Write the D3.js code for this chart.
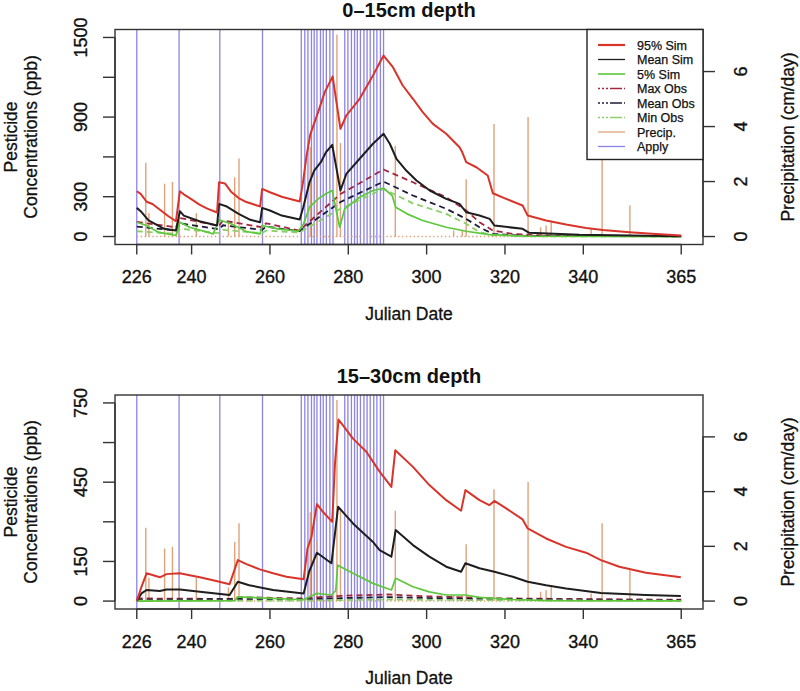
<!DOCTYPE html>
<html><head><meta charset="utf-8">
<script src="https://cdn.jsdelivr.net/npm/d3@7"></script>
<style>
body{margin:0;background:#fff}
svg{display:block}
text{font-family:"Liberation Sans",Arial,Helvetica,sans-serif;fill:#111}
</style>
</head><body><svg id="c" width="800" height="691"></svg>
<script>
// ---------------- data ----------------
const xTicks = [226, 240, 260, 280, 300, 320, 340, 365];
const precipTicks = [0, 2, 4, 6];
const topYTicks = [0, 300, 600, 900, 1200, 1500];
const topYLabels = [0, 300, 900, 1500];
const botYTicks = [0, 150, 300, 450, 600, 750];
const botYLabels = [0, 150, 450, 750];

const applyDays = [226, 236.8, 247.2, 258.1,
  268.0, 268.9, 269.7, 270.6, 271.3, 272.0, 272.9, 273.6, 274.4, 275.3, 276.1,
  279.1, 279.9, 280.8, 281.6, 282.3, 283.1, 284.0, 284.8, 285.6, 286.5, 287.3, 288.2, 289.0];

const precipDays = [228.3, 229.1, 233.1, 235.1, 236.8, 241.2, 249.4, 251.0, 252.1, 270.3, 272.0, 277.1, 278.0,
  292.0, 306.9, 309.1, 310.1, 317.2, 325.9, 329.1, 330.5, 331.8, 342.0, 344.8, 351.9];
const precipVals = [2.68, 0.85, 1.92, 1.98, 0.55, 0.85, 0.5, 2.16, 2.84, 3.25, 2.2, 7.35, 3.4,
  3.3, 0.22, 0.2, 2.08, 4.09, 4.35, 0.34, 0.4, 0.55, 0.28, 2.84, 1.13];

// 0-15 cm depth
const top95 = [[226,341],[227,322],[228.5,262],[230,245],[232,200],[234,155],[236,115],
  [237,341],[238,318],[240,280],[242,240],[244,210],[246.5,181],
  [247,409],[248.5,400],[250,340],[252,290],[254,260],[257.5,226],
  [258,359],[260,334],[263,300],[267.6,264],
  [268.4,400],[269.3,600],[270.3,770],[272.3,937],[274,1088],[276,1206],
  [278,812],[279.5,912],[282.9,1038],[286.3,1214],[289,1364],
  [291.4,1276],[293.9,1138],[296.5,1038],[299,937],[301.6,849],[305,774],[308.4,673],[309.1,635],[310.1,560],
  [312.7,522],[315.6,460],[316.9,326],[320.3,284],[324.5,234],[325.8,158],[330.5,121],[335.6,90],
  [340.7,65],[345,50],[351.8,33],[358.6,20],[365,8]];
const topMean = [[226,216],[227,191],[229,121],[231,90],[233,58],[236,45],
  [237,191],[238,158],[242,115],[246.5,83],
  [247,246],[249,226],[252,171],[255,126],[257.5,108],
  [258,216],[260,196],[263,158],[267.6,128],
  [268.5,221],[270.1,409],[271.3,497],[273,560],[274.3,635],[275.9,691],
  [278,347],[279.5,472],[282.9,586],[286.3,699],[289,774],
  [290.6,699],[292.3,586],[294.8,497],[297.4,422],[300.8,347],[305,284],[308.4,246],[310.1,183],
  [313.5,158],[316.1,133],[317.3,83],[324.5,58],[326.2,28],[339,13],[365,2]];
const top5 = [[226,108],[228.5,83],[231.5,33],[236,8],
  [237,108],[239.5,70],[245.5,20],
  [247,126],[250,96],[254,38],[257.5,20],
  [258,83],[262,58],[267.2,40],
  [268.5,90],[270.1,221],[272.3,284],[274.3,322],[275.9,347],
  [277.8,70],[279.1,209],[282.9,296],[286.3,347],[289,364],
  [291.2,309],[292.1,221],[295,171],[299,121],[305,70],[310.1,40],[316,15],[326,2],[365,0]];
const topMaxObs = [[226,110],[236,70],[237,140],[247,80],[248,120],[258,70],[259,100],[267.5,45],
  [278,320],[289,505],[296.5,409],[305,296],[310.1,196],[313.5,108],[316.9,45],[322,20],[330,8],[365,3]];
const topMeanObs = [[226,75],[236,45],[237,100],[247,55],[248,85],[258,50],[259,75],[267.5,40],
  [278,260],[289,414],[296.5,309],[305,209],[310.1,133],[313.5,70],[316.9,20],[325,5],[365,2]];
const topMinObs = [[226,40],[236,20],[237,60],[247,25],[248,50],[258,25],[259,45],[267.5,30],
  [278,210],[289,359],[296.5,250],[305,171],[310.1,96],[313.5,33],[317,10],[325,2],[365,0]];

// 15-30 cm depth
const bot95 = [[226,0],[227.2,54],[228.5,105],[230.2,98],[231.9,90],[233.6,102],[237,105],[239.5,98],
  [242.1,90],[246.3,76],[249.7,64],[251.8,155],[254,140],[257.4,120],[260.8,105],[264.2,92],[268.6,83],
  [269.6,200],[270.6,243],[272,367],[273.5,338],[275.9,300],[276.6,520],[277.5,687],[278.6,666],
  [281.2,615],[284.6,565],[288,490],[291,432],[292,571],[296.5,508],[300.7,439],[305,382],[308.8,342],
  [309.9,420],[313.5,382],[316,363],[317.3,379],[320.3,351],[324.5,309],[325.8,275],[330.5,237],
  [335.6,205],[340.7,183],[344.5,155],[349.2,130],[356,107],[364.9,90]];
const botMean = [[226,0],[227.2,29],[228.5,42],[231.9,38],[233.6,44],[237,44],[242.1,35],[249.7,23],
  [251.8,73],[254.7,60],[260.8,42],[268.6,29],[270,111],[272,183],[275.7,143],[277.4,357],[281.2,294],
  [286.3,224],[288,193],[291,168],[292.1,269],[296.5,212],[300.7,168],[305,130],[308.8,111],[309.9,143],
  [313.5,124],[317.3,111],[322,92],[325.8,73],[330.5,60],[335.6,48],[344.5,31],[356,23],[364.9,19]];
const bot5 = [[226,0],[251,2],[251.8,16],[260.8,10],[268.6,5],[271.9,29],[275.7,23],[276.8,40],[277.3,136],
  [281.2,105],[286.3,67],[291,42],[292.1,86],[296.5,54],[300.7,35],[305,23],[309.9,23],[313.5,14],
  [322,6],[330.5,2],[364.9,1]];
const botMaxObs = [[226,10],[250,8],[252,15],[268,10],[278,20],[290,25],[300,18],[320,10],[365,5]];
const botMeanObs = [[226,5],[252,8],[268,6],[280,12],[290,15],[310,8],[365,3]];
const botMinObs = [[226,2],[268,2],[290,6],[320,3],[365,1]];

const legendLabels = ["95% Sim", "Mean Sim", "5% Sim", "Max Obs", "Mean Obs", "Min Obs", "Precip.", "Apply"];

// ---------------- styles ----------------
const C = {
  s95: "#d8342a", sMean: "#1e1e1e", s5: "#5cc83b",
  oMax: "#a3283f", oMean: "#1c1c3a", oMin: "#8ccf6a",
  precip: "#dfa27a", apply: "#8c84e4", axis: "#333"
};
const legendStyles = [
  {c: C.s95, d: null, w: 2.2}, {c: C.sMean, d: null, w: 1.3}, {c: C.s5, d: null, w: 1.6},
  {c: C.oMax, d: "2,2,2,2,2,2,12", w: 1.6}, {c: C.oMean, d: "2,2,2,2,2,2,12", w: 1.6},
  {c: C.oMin, d: "2,2,2,2,2,2,12", w: 1.6}, {c: C.precip, d: null, w: 1.3}, {c: C.apply, d: null, w: 1.3}
];

const svg = d3.select("#c");
const X0 = 115, X1 = 703;
const x = d3.scaleLinear().domain([226 - 0.04 * 139, 365 + 0.04 * 139]).range([X0, X1]);
const pMax = 7.24;

function drawPanel(o) {
  const g = svg.append("g");
  const yTop = o.top, yBot = o.bottom;
  const ymax = o.ymax;
  const y = d3.scaleLinear().domain([-0.04 * ymax, 1.04 * ymax]).range([yBot, yTop]);
  const yp = d3.scaleLinear().domain([-0.04 * pMax, 1.04 * pMax]).range([yBot, yTop]);

  const clipId = "clip" + o.id;
  svg.append("clipPath").attr("id", clipId).append("rect")
    .attr("x", X0).attr("y", yTop).attr("width", X1 - X0).attr("height", yBot - yTop);
  const plot = g.append("g").attr("clip-path", `url(#${clipId})`);

  // apply lines
  plot.selectAll(".ap").data(applyDays).enter().append("line")
    .attr("x1", d => x(d)).attr("x2", d => x(d)).attr("y1", yTop).attr("y2", yBot)
    .attr("stroke", C.apply).attr("stroke-width", 1.3);

  // precip zero dots + bars
  plot.append("line").attr("x1", x(226)).attr("x2", x(365)).attr("y1", yp(0)).attr("y2", yp(0))
    .attr("stroke", C.precip).attr("stroke-width", 1.4).attr("stroke-dasharray", "1.4,2.5");
  plot.selectAll(".pr").data(precipDays).enter().append("line")
    .attr("x1", d => x(d)).attr("x2", d => x(d))
    .attr("y1", yp(0)).attr("y2", (d, i) => yp(precipVals[i]))
    .attr("stroke", C.precip).attr("stroke-width", 1.4);

  const line = d3.line().x(d => x(d[0])).y(d => y(d[1]));
  const series = [
    [o.maxObs, C.oMax, "6,4", 1.8],
    [o.meanObs, C.oMean, "6,4", 1.8],
    [o.minObs, C.oMin, "6,4", 1.8],
    [o.s5, C.s5, null, 1.7],
    [o.sMean, C.sMean, null, 2.0],
    [o.s95, C.s95, null, 2.0]
  ];
  series.forEach(([data, col, dash, w]) => {
    plot.append("path").datum(data).attr("d", line).attr("fill", "none")
      .attr("stroke", col).attr("stroke-width", w).attr("stroke-linejoin", "round")
      .attr("stroke-dasharray", dash);
  });

  // box
  g.append("rect").attr("x", X0).attr("y", yTop).attr("width", X1 - X0).attr("height", yBot - yTop)
    .attr("fill", "none").attr("stroke", C.axis).attr("stroke-width", 1.4);

  const tickLen = 10;
  // bottom axis
  g.append("line").attr("x1", x(226)).attr("x2", x(365)).attr("y1", yBot).attr("y2", yBot)
    .attr("stroke", C.axis).attr("stroke-width", 1.4);
  xTicks.forEach(t => {
    g.append("line").attr("x1", x(t)).attr("x2", x(t)).attr("y1", yBot).attr("y2", yBot + tickLen)
      .attr("stroke", C.axis).attr("stroke-width", 1.4);
    g.append("text").attr("x", x(t)).attr("y", yBot + 38.5).attr("text-anchor", "middle")
      .attr("font-size", 18).attr("stroke", "#111").attr("stroke-width", 0.35).text(t);
  });
  g.append("text").attr("x", (X0 + X1) / 2).attr("y", yBot + 75).attr("text-anchor", "middle")
    .attr("font-size", 17.5).attr("stroke", "#111").attr("stroke-width", 0.3).text("Julian Date");

  // left axis
  g.append("line").attr("x1", X0).attr("x2", X0).attr("y1", y(0)).attr("y2", y(o.yTicks[o.yTicks.length - 1]))
    .attr("stroke", C.axis).attr("stroke-width", 1.4);
  o.yTicks.forEach(t => {
    g.append("line").attr("x1", X0 - tickLen - 2).attr("x2", X0).attr("y1", y(t)).attr("y2", y(t))
      .attr("stroke", C.axis).attr("stroke-width", 1.4);
  });
  o.yLabels.forEach(t => {
    g.append("text").attr("transform", `translate(87,${y(t)}) rotate(-90)`).attr("text-anchor", "middle")
      .attr("font-size", 18).attr("stroke", "#111").attr("stroke-width", 0.35).text(t);
  });
  const yc = (yTop + yBot) / 2;
  g.append("text").attr("transform", `translate(17,${yc}) rotate(-90)`).attr("text-anchor", "middle")
    .attr("font-size", 17.5).attr("stroke", "#111").attr("stroke-width", 0.3).text("Pesticide");
  g.append("text").attr("transform", `translate(37,${yc}) rotate(-90)`).attr("text-anchor", "middle")
    .attr("font-size", 17.5).attr("stroke", "#111").attr("stroke-width", 0.3).text("Concentrations (ppb)");

  // right axis
  g.append("line").attr("x1", X1).attr("x2", X1).attr("y1", yp(0)).attr("y2", yp(6))
    .attr("stroke", C.axis).attr("stroke-width", 1.4);
  precipTicks.forEach(t => {
    g.append("line").attr("x1", X1).attr("x2", X1 + tickLen + 2).attr("y1", yp(t)).attr("y2", yp(t))
      .attr("stroke", C.axis).attr("stroke-width", 1.4);
    g.append("text").attr("transform", `translate(747,${yp(t)}) rotate(-90)`).attr("text-anchor", "middle")
      .attr("font-size", 18).attr("stroke", "#111").attr("stroke-width", 0.35).text(t);
  });
  g.append("text").attr("transform", `translate(794,${yc}) rotate(-90)`).attr("text-anchor", "middle")
    .attr("font-size", 17.5).attr("stroke", "#111").attr("stroke-width", 0.3).text("Precipitation (cm/day)");

  // title
  g.append("text").attr("x", (X0 + X1) / 2).attr("y", yTop - 12.5).attr("text-anchor", "middle")
    .attr("font-size", 20).attr("font-weight", "bold").text(o.title);

  if (o.legend) {
    const lx = 587, ly = yTop, lw = X1 - lx, lh = 130;
    g.append("rect").attr("x", lx).attr("y", ly).attr("width", lw).attr("height", lh)
      .attr("fill", "#fff").attr("stroke", "#222").attr("stroke-width", 1.4);
    legendLabels.forEach((lab, i) => {
      const yy = ly + 15.5 + i * 14.5;
      const st = legendStyles[i];
      g.append("line").attr("x1", 598).attr("x2", 625).attr("y1", yy).attr("y2", yy)
        .attr("stroke", st.c).attr("stroke-width", st.w).attr("stroke-dasharray", st.d);
      g.append("text").attr("x", 637).attr("y", yy + 4.5).attr("font-size", 12.5)
        .attr("stroke", "#111").attr("stroke-width", 0.25).text(lab);
    });
  }
}

drawPanel({id: "a", top: 29.5, bottom: 244.5, ymax: 1500, yTicks: topYTicks, yLabels: topYLabels,
  title: "0\u201315cm depth", legend: true,
  s95: top95, sMean: topMean, s5: top5, maxObs: topMaxObs, meanObs: topMeanObs, minObs: topMinObs});
drawPanel({id: "b", top: 395, bottom: 609, ymax: 750, yTicks: botYTicks, yLabels: botYLabels,
  title: "15\u201330cm depth", legend: false,
  s95: bot95, sMean: botMean, s5: bot5, maxObs: botMaxObs, meanObs: botMeanObs, minObs: botMinObs});
</script>
</body></html>
